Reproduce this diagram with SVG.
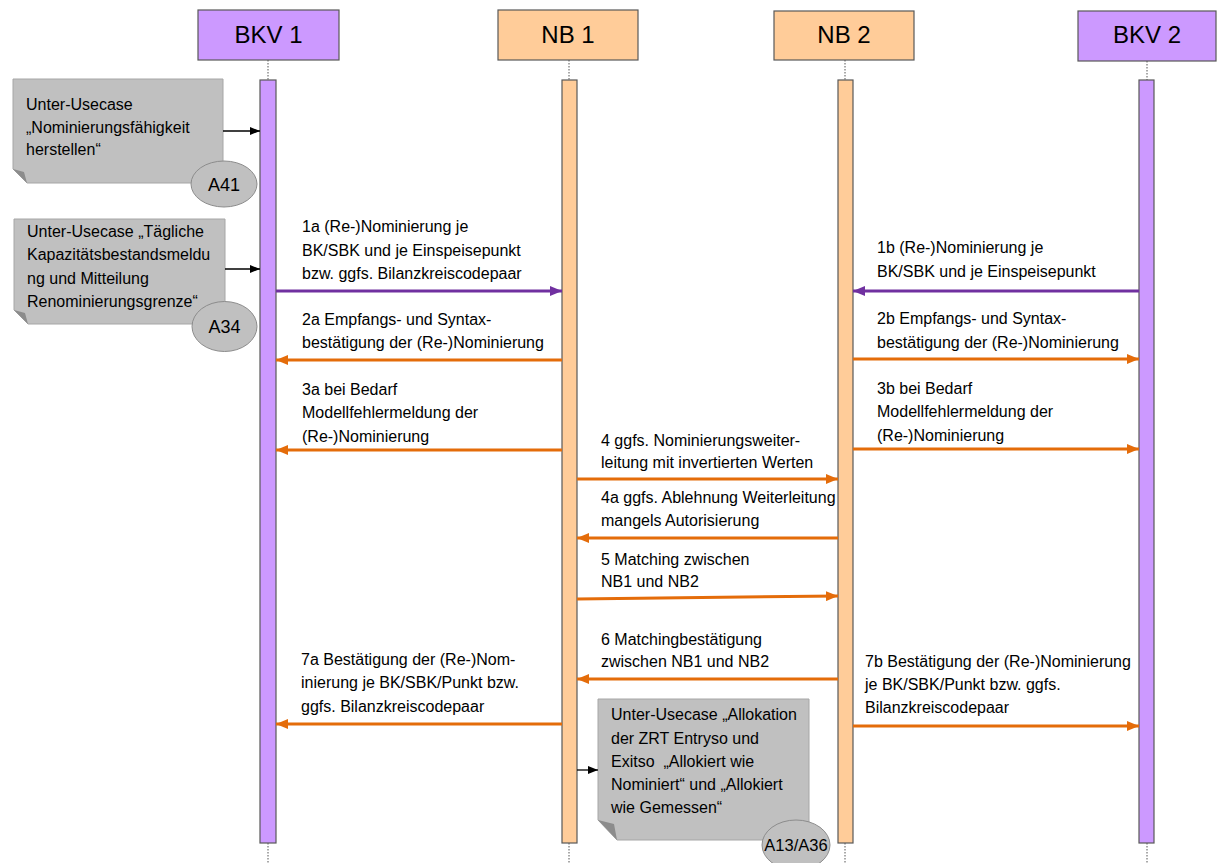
<svg xmlns="http://www.w3.org/2000/svg" width="1217" height="863" viewBox="0 0 1217 863">
<style>
text{font-family:"Liberation Sans",Arial,sans-serif;fill:#000}
.hdr{font-size:24px;text-anchor:middle}
.lbl{font-size:16px}
.nt{font-size:16px;white-space:pre}
.tag{font-size:18px;text-anchor:middle}
.pur{fill:#CC99FF;stroke:#595959;stroke-width:1.2}
.org{fill:#FFCC99;stroke:#595959;stroke-width:1.2}
.life{stroke:#555;stroke-width:1;stroke-dasharray:1.5 1.5}
.note{fill:#C0C0C0;stroke:#A6A6A6;stroke-width:1}
.fold{fill:#8C8C8C}
.ell{fill:#C0C0C0;stroke:#8C8C8C;stroke-width:1}
.mp{stroke:#7030A0;stroke-width:3;fill:none;marker-end:url(#ap)}
.mo{stroke:#E46C0A;stroke-width:3;fill:none;marker-end:url(#ao)}
.mb{stroke:#000;stroke-width:1.3;fill:none;marker-end:url(#ab)}
</style>
<defs>
<marker id="ap" markerUnits="userSpaceOnUse" markerWidth="12" markerHeight="10" refX="12" refY="5" orient="auto"><path d="M0,0 L12,5 L0,10 z" fill="#7030A0"/></marker>
<marker id="ao" markerUnits="userSpaceOnUse" markerWidth="12" markerHeight="10" refX="12" refY="5" orient="auto"><path d="M0,0 L12,5 L0,10 z" fill="#E46C0A"/></marker>
<marker id="ab" markerUnits="userSpaceOnUse" markerWidth="10" markerHeight="8" refX="10" refY="4" orient="auto"><path d="M0,0 L10,4 L0,8 z" fill="#000"/></marker>
</defs>
<rect width="1217" height="863" fill="#fff"/>

<g id="BKV1">
<rect class="pur" x="198" y="10" width="141" height="50"/>
<text class="hdr" x="268.5" y="43">BKV 1</text>
<line class="life" x1="268" y1="60" x2="268" y2="80"/>
<line class="life" x1="268" y1="843" x2="268" y2="863"/>
<rect class="pur" x="260" y="80" width="16" height="763"/>
</g>
<g id="NB1">
<rect class="org" x="498" y="10" width="140" height="50"/>
<text class="hdr" x="568" y="43">NB 1</text>
<line class="life" x1="569" y1="60" x2="569" y2="80"/>
<line class="life" x1="569" y1="843" x2="569" y2="863"/>
<rect class="org" x="562" y="80" width="15" height="763"/>
</g>
<g id="NB2">
<rect class="org" x="774" y="11" width="140" height="49"/>
<text class="hdr" x="844" y="43">NB 2</text>
<line class="life" x1="845" y1="60" x2="845" y2="80"/>
<line class="life" x1="845" y1="843" x2="845" y2="863"/>
<rect class="org" x="838" y="80" width="15" height="763"/>
</g>
<g id="BKV2">
<rect class="pur" x="1078" y="11" width="138" height="50"/>
<text class="hdr" x="1147" y="43">BKV 2</text>
<line class="life" x1="1147" y1="61" x2="1147" y2="80"/>
<line class="life" x1="1147" y1="843" x2="1147" y2="863"/>
<rect class="pur" x="1139" y="80" width="15" height="763"/>
</g>

<g id="note-A41">
<polygon class="note" points="13,79 223,79 223,183 27,183 13,169"/>
<polygon class="fold" points="13,169 24,172 27,183"/>
<text class="nt"><tspan x="26" y="110">Unter-Usecase</tspan><tspan x="26" y="132.5">„Nominierungsfähigkeit</tspan><tspan x="26" y="155">herstellen“</tspan></text>
<ellipse class="ell" cx="224" cy="184" rx="33" ry="23"/>
<text class="tag" x="224" y="190.5">A41</text>
</g>

<g id="note-A34">
<polygon class="note" points="14,219 225,219 225,324 28,324 14,310"/>
<polygon class="fold" points="14,310 25,313 28,324"/>
<text class="nt"><tspan x="27" y="237">Unter-Usecase „Tägliche</tspan><tspan x="27" y="260">Kapazitätsbestandsmeldu</tspan><tspan x="27" y="284">ng und Mitteilung</tspan><tspan x="27" y="307">Renominierungsgrenze“</tspan></text>
<ellipse class="ell" cx="224.5" cy="326.5" rx="32.5" ry="25"/>
<text class="tag" x="224.5" y="333">A34</text>
</g>

<g id="note-A13">
<polygon class="note" points="598,699 809,699 809,840 617,840 598,820"/>
<polygon class="fold" points="598,820 614,824 617,840"/>
<text class="nt"><tspan x="611" y="720">Unter-Usecase „Allokation</tspan><tspan x="611" y="744">der ZRT Entryso und</tspan><tspan x="611" y="767">Exitso  „Allokiert wie</tspan><tspan x="611" y="790">Nominiert“ und „Allokiert</tspan><tspan x="611" y="813">wie Gemessen“</tspan></text>
<ellipse class="ell" cx="796" cy="845" rx="34" ry="25"/>
<text class="tag" x="796" y="851" style="font-size:16.5px">A13/A36</text>
</g>

<g id="connectors">
<line class="mb" x1="223" y1="131" x2="260" y2="131"/>
<line class="mb" x1="225" y1="269" x2="260" y2="269"/>
<line class="mb" x1="577" y1="770" x2="598" y2="770"/>

<line class="mp" x1="276" y1="291" x2="562" y2="291"/>
<line class="mp" x1="1139" y1="291" x2="853" y2="291"/>
<line class="mo" x1="562" y1="360" x2="276" y2="360"/>
<line class="mo" x1="853" y1="359" x2="1139" y2="359"/>
<line class="mo" x1="562" y1="450" x2="276" y2="450"/>
<line class="mo" x1="853" y1="449" x2="1139" y2="449"/>
<line class="mo" x1="577" y1="479" x2="838" y2="479"/>
<line class="mo" x1="838" y1="538" x2="577" y2="538"/>
<line class="mo" x1="577" y1="599" x2="838" y2="596"/>
<line class="mo" x1="838" y1="679" x2="577" y2="679"/>
<line class="mo" x1="562" y1="724" x2="276" y2="724"/>
<line class="mo" x1="853" y1="726" x2="1139" y2="726"/>

<text class="lbl"><tspan x="302" y="232">1a (Re-)Nominierung je</tspan><tspan x="302" y="256">BK/SBK und je Einspeisepunkt</tspan><tspan x="302" y="279">bzw. ggfs. Bilanzkreiscodepaar</tspan></text>
<text class="lbl"><tspan x="877" y="253">1b (Re-)Nominierung je</tspan><tspan x="877" y="277">BK/SBK und je Einspeisepunkt</tspan></text>
<text class="lbl"><tspan x="302" y="325">2a Empfangs- und Syntax-</tspan><tspan x="302" y="348">bestätigung der (Re-)Nominierung</tspan></text>
<text class="lbl"><tspan x="877" y="324">2b Empfangs- und Syntax-</tspan><tspan x="877" y="348">bestätigung der (Re-)Nominierung</tspan></text>
<text class="lbl"><tspan x="302" y="395">3a bei Bedarf</tspan><tspan x="302" y="418">Modellfehlermeldung der</tspan><tspan x="302" y="442">(Re-)Nominierung</tspan></text>
<text class="lbl"><tspan x="877" y="394">3b bei Bedarf</tspan><tspan x="877" y="417">Modellfehlermeldung der</tspan><tspan x="877" y="441">(Re-)Nominierung</tspan></text>
<text class="lbl"><tspan x="601" y="446">4 ggfs. Nominierungsweiter-</tspan><tspan x="601" y="468">leitung mit invertierten Werten</tspan></text>
<text class="lbl"><tspan x="601" y="503">4a ggfs. Ablehnung Weiterleitung</tspan><tspan x="601" y="526">mangels Autorisierung</tspan></text>
<text class="lbl"><tspan x="601" y="565">5 Matching zwischen</tspan><tspan x="601" y="587">NB1 und NB2</tspan></text>
<text class="lbl"><tspan x="601" y="645">6 Matchingbestätigung</tspan><tspan x="601" y="667">zwischen NB1 und NB2</tspan></text>
<text class="lbl"><tspan x="301" y="665">7a Bestätigung der (Re-)Nom-</tspan><tspan x="301" y="688">inierung je BK/SBK/Punkt bzw.</tspan><tspan x="301" y="712">ggfs. Bilanzkreiscodepaar</tspan></text>
<text class="lbl"><tspan x="865" y="667">7b Bestätigung der (Re-)Nominierung</tspan><tspan x="865" y="690">je BK/SBK/Punkt bzw. ggfs.</tspan><tspan x="865" y="713">Bilanzkreiscodepaar</tspan></text>
</g>
</svg>
